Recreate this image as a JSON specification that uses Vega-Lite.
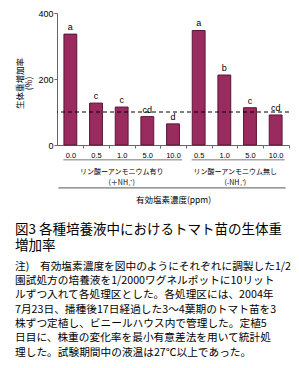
{
  "$schema": "https://vega.github.io/schema/vega-lite/v6.json",
  "width": 232,
  "height": 132,
  "padding": {"left": 15, "top": 9, "right": 0, "bottom": 0},
  "background": "white",
  "config": {"view": {"stroke": null}, "font": "Noto Sans CJK JP"},
  "title": {
    "text": ["図3 各種培養液中におけるトマト苗の生体重", "　　増加率"],
    "subtitle": [
      "注)　有効塩素濃度を図中のようにそれぞれに調製した1/2",
      "　　 園試処方の培養液を1/2000ワグネルポットに10リット",
      "　　 ルずつ入れて各処理区とした。各処理区には、2004年",
      "　　 7月23日、播種後17日経過した3〜4葉期のトマト苗を3",
      "　　 株ずつ定植し、ビニールハウス内で管理した。定植5",
      "　　 日目に、株重の変化率を最小有意差法を用いて統計処",
      "　　 理した。試験期間中の液温は27℃以上であった。"
    ],
    "orient": "bottom",
    "anchor": "start",
    "frame": "bounds",
    "font": "Noto Sans CJK JP",
    "fontSize": 13.5,
    "fontWeight": "normal",
    "lineHeight": 16.4,
    "color": "black",
    "subtitleFont": "Noto Sans CJK JP",
    "subtitleFontSize": 10.7,
    "subtitleLineHeight": 14.3,
    "subtitleColor": "black",
    "subtitlePadding": 9,
    "offset": 19
  },
  "datasets": {
    "bars": [
      {"id": "+0.0", "group": "+", "value": 336, "letter": "a"},
      {"id": "+0.5", "group": "+", "value": 127, "letter": "c"},
      {"id": "+1.0", "group": "+", "value": 115, "letter": "c"},
      {"id": "+5.0", "group": "+", "value": 86, "letter": "cd"},
      {"id": "+10.0", "group": "+", "value": 64, "letter": "d"},
      {"id": "-0.5", "group": "-", "value": 347, "letter": "a"},
      {"id": "-1.0", "group": "-", "value": 212, "letter": "b"},
      {"id": "-5.0", "group": "-", "value": 113, "letter": "c"},
      {"id": "-10.0", "group": "-", "value": 91, "letter": "cd"}
    ],
    "groups": [
      {"start": "+0.0", "end": "+10.0"},
      {"start": "-0.5", "end": "-10.0"}
    ]
  },
  "layer": [
    {
      "data": {"name": "bars"},
      "mark": {"type": "bar", "fill": "#9a2b5f", "stroke": "#5b1535", "strokeWidth": 1},
      "encoding": {
        "x": {
          "field": "id",
          "type": "nominal",
          "sort": null,
          "scale": {
            "domain": ["+0.0", "+0.5", "+1.0", "+5.0", "+10.0", "-0.5", "-1.0", "-5.0", "-10.0"],
            "paddingInner": 0.5,
            "paddingOuter": 0.27
          },
          "axis": {
            "labelExpr": "slice(datum.value, 1)",
            "labelAngle": 0,
            "labelFont": "Liberation Sans",
            "labelFontSize": 7.5,
            "labelColor": "black",
            "labelPadding": 3,
            "tickSize": 3,
            "tickColor": "#666",
            "tickOffset": 12.9,
            "labelOffset": -12.9,
            "domainColor": "#666",
            "title": "有効塩素濃度(ppm)",
            "titleFont": "Noto Sans CJK JP",
            "titleFontSize": 8.5,
            "titleFontWeight": "normal",
            "titleColor": "black",
            "titlePadding": 37
          }
        },
        "y": {
          "field": "value",
          "type": "quantitative",
          "scale": {"domain": [0, 400]},
          "axis": {
            "values": [0, 100, 200, 300, 400],
            "grid": false,
            "labelFont": "Liberation Sans",
            "labelFontSize": 9,
            "labelColor": "black",
            "labelPadding": 1,
            "tickSize": 3,
            "tickColor": "#666",
            "domainColor": "#666",
            "title": ["生体重増加率", "(%)"],
            "titleFont": "Noto Sans CJK JP",
            "titleFontSize": 8.5,
            "titleFontWeight": "normal",
            "titleLineHeight": 9,
            "titleColor": "black",
            "titleAngle": -90,
            "titleBaseline": "middle",
            "titleX": -38,
            "titleY": 70
          }
        }
      }
    },
    {
      "data": {"name": "bars"},
      "mark": {"type": "text", "baseline": "bottom", "dy": -2, "font": "Liberation Sans", "fontSize": 9, "color": "black"},
      "encoding": {
        "x": {"field": "id", "type": "nominal", "sort": null},
        "y": {"field": "value", "type": "quantitative"},
        "text": {"field": "letter"}
      }
    },
    {
      "data": {"values": [{}]},
      "mark": {"type": "rule", "strokeDash": [4, 3], "color": "black", "strokeWidth": 1},
      "encoding": {"y": {"datum": 100}}
    },
    {
      "data": {"name": "groups"},
      "mark": {"type": "rule", "color": "#777", "strokeWidth": 1, "xOffset": -7, "x2Offset": 9},
      "encoding": {
        "x": {"field": "start", "type": "nominal"},
        "x2": {"field": "end"},
        "y": {"datum": -45}
      }
    },
    {
      "data": {"values": [{}]},
      "mark": {"type": "rule", "color": "#777", "strokeWidth": 1.2, "xOffset": -12, "x2Offset": 10},
      "encoding": {
        "x": {"datum": "+0.0", "type": "nominal"},
        "x2": {"datum": "-10.0"},
        "y": {"datum": -130}
      }
    },
    {
      "data": {"values": [{"line1": "リン酸ーアンモニウム有り"}]},
      "mark": {"type": "text", "font": "Noto Sans CJK JP", "fontSize": 7, "color": "black", "baseline": "middle"},
      "encoding": {
        "x": {"datum": "+1.0", "type": "nominal"},
        "y": {"datum": -82},
        "text": {"field": "line1"}
      }
    },
    {
      "data": {"values": [{"line2": "(＋NH₄⁺)"}]},
      "mark": {"type": "text", "font": "Noto Sans CJK JP", "fontSize": 7, "color": "black", "baseline": "middle"},
      "encoding": {
        "x": {"datum": "+1.0", "type": "nominal"},
        "y": {"datum": -115},
        "text": {"field": "line2"}
      }
    },
    {
      "data": {"values": [{"line1": "リン酸ーアンモニウム無し"}]},
      "mark": {"type": "text", "font": "Noto Sans CJK JP", "fontSize": 7, "color": "black", "baseline": "middle", "dx": 11},
      "encoding": {
        "x": {"datum": "-1.0", "type": "nominal"},
        "y": {"datum": -82},
        "text": {"field": "line1"}
      }
    },
    {
      "data": {"values": [{"line2": "(-NH₄⁺)"}]},
      "mark": {"type": "text", "font": "Noto Sans CJK JP", "fontSize": 7, "color": "black", "baseline": "middle", "dx": 11},
      "encoding": {
        "x": {"datum": "-1.0", "type": "nominal"},
        "y": {"datum": -115},
        "text": {"field": "line2"}
      }
    }
  ]
}
